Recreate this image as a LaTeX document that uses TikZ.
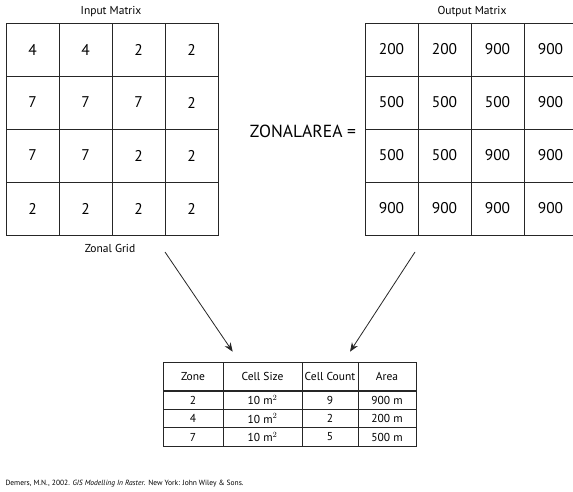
\documentclass[tikz,border=0pt]{standalone}
\usepackage{fontspec}
\setmainfont{PT Sans}
\usepackage{tikz}
\usetikzlibrary{arrows.meta, positioning, calc}

\tikzset{
  cellbox/.style={draw=black!85, line width=0.8pt, minimum width=53pt, minimum height=53pt, inner sep=0pt, font=\fontsize{15.5}{18}\selectfont},
  tabcell/.style={draw=black!85, line width=0.6pt, inner sep=0pt, font=\fontsize{11.5}{13}\selectfont},
  caption/.style={font=\fontsize{11.5}{13}\selectfont},
  pointer/.style={-{Stealth[length=9pt, width=7pt]}, line width=0.8pt, black!85}
}

\begin{document}
\begin{tikzpicture}[x=1pt, y=-1pt]
\useasboundingbox[fill=white] (0,0) rectangle (573,492);

% Input grid
\foreach \row/\vals in {0/{4,4,2,2}, 1/{7,7,7,2}, 2/{7,7,2,2}, 3/{2,2,2,2}} {
  \foreach \v [count=\col from 0] in \vals {
    \node[cellbox] (in-\row-\col) at (32.5+53*\col, 49.5+53*\row) {\v};
  }
}
\node[caption] (intitle) at (111, 12) {Input Matrix};
\node[caption] (zonal) at (110, 248) {Zonal Grid};

% Output grid
\foreach \row/\vals in {0/{200,200,900,900}, 1/{500,500,500,900}, 2/{500,500,900,900}, 3/{900,900,900,900}} {
  \foreach \v [count=\col from 0] in \vals {
    \node[cellbox] (out-\row-\col) at (391.5+53*\col, 49.5+53*\row) {\v};
  }
}
\node[caption] (outtitle) at (472, 12) {Output Matrix};

% Operator
\node[font=\fontsize{17.5}{20}\selectfont] (op) at (303, 131) {ZONALAREA =};

% Summary table
\foreach \r/\a/\b/\c/\d/\yy/\hh in {0/Zone/Cell Size/Cell Count/Area/376.5/29,
    1/2/10 m$^2$/9/900 m/400/18.5, 2/4/10 m$^2$/2/200 m/418.5/18.5, 3/7/10 m$^2$/5/500 m/437/18.5} {
  \node[tabcell, minimum width=60pt, minimum height=\hh pt] (t-\r-0) at (193, \yy) {\a};
  \node[tabcell, minimum width=79pt, minimum height=\hh pt] (t-\r-1) at (262.5, \yy) {\b};
  \node[tabcell, minimum width=56pt, minimum height=\hh pt] (t-\r-2) at (330, \yy) {\c};
  \node[tabcell, minimum width=58pt, minimum height=\hh pt] (t-\r-3) at (387, \yy) {\d};
}

% Arrows into the table
\coordinate (lstart) at (165, 252);
\coordinate (rstart) at (415, 252);
\draw[pointer] (lstart) -- ($(t-0-1.north west)+(10,-10)$);
\draw[pointer] (rstart) -- ($(t-0-2.north)+(20,-10)$);

% Source
\node[anchor=west, font=\fontsize{7.5}{9}\selectfont] (cite) at (2, 484)
  {Demers, M.N., 2002. \textit{GIS Modelling In Raster}. New York: John Wiley \& Sons.};
\end{tikzpicture}
\end{document}
